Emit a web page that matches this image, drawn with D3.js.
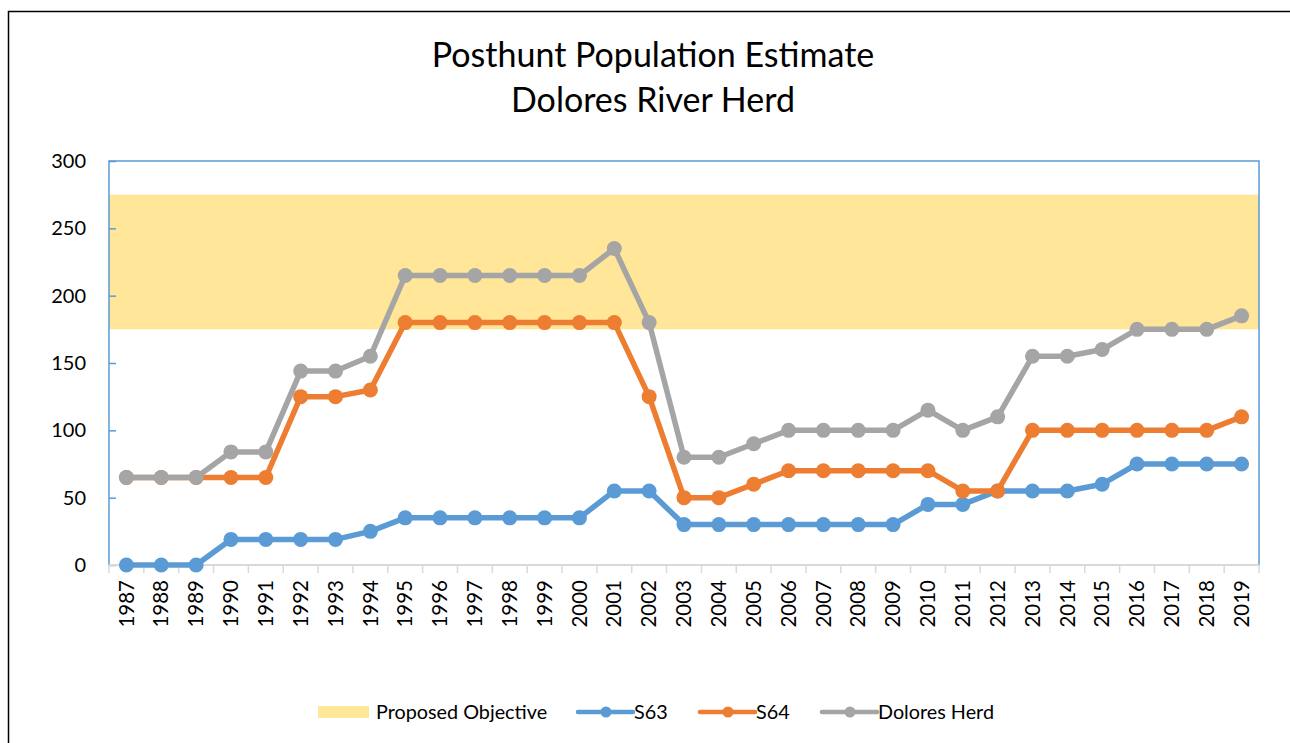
<!DOCTYPE html>
<html>
<head>
<meta charset="utf-8">
<script src="https://cdn.jsdelivr.net/npm/d3@7"></script>
<style>
  body { margin: 0; background: #fff; }
  text { font-family: Lato, "Open Sans", sans-serif; fill: #000; }
</style>
</head>
<body>
<div id="chart-area"></div>
<script>
// data
var years = d3.range(1987, 2020).map(String);
var s63 = [0, 0, 0, 19, 19, 19, 19, 25, 35, 35, 35, 35, 35, 35, 55, 55, 30, 30, 30, 30, 30, 30, 30, 45, 45, 55, 55, 55, 60, 75, 75, 75, 75];
var s64 = [65, 65, 65, 65, 65, 125, 125, 130, 180, 180, 180, 180, 180, 180, 180, 125, 50, 50, 60, 70, 70, 70, 70, 70, 55, 55, 100, 100, 100, 100, 100, 100, 110];
var dolores = [65, 65, 65, 84, 84, 144, 144, 155, 215, 215, 215, 215, 215, 215, 235, 180, 80, 80, 90, 100, 100, 100, 100, 115, 100, 110, 155, 155, 160, 175, 175, 175, 185];
var objective = [175, 275];
var yTicks = [0, 50, 100, 150, 200, 250, 300];
var titleLines = ["Posthunt Population Estimate", "Dolores River Herd"];

var series = [
    {name: "S63", values: s63, color: "#5b9bd5"},
    {name: "S64", values: s64, color: "#ed7d31"},
    {name: "Dolores Herd", values: dolores, color: "#a5a5a5"}
];

var W = 1290, H = 743;
var plotL = 109, plotR = 1259, plotT = 161, plotB = 565;

var svg = d3.select("#chart-area").append("svg")
    .attr("width", W)
    .attr("height", H);

// outer chart frame
svg.append("rect")
    .attr("x", 8.5).attr("y", 11.5)
    .attr("width", 1400).attr("height", 900)
    .attr("fill", "none")
    .attr("stroke", "#000")
    .attr("stroke-width", 1.5);

var x = d3.scaleBand().domain(years).range([plotL, plotR]);
var y = d3.scaleLinear().domain([0, 300]).range([plotB, plotT]);

// objective band
svg.append("rect")
    .attr("x", plotL)
    .attr("y", y(objective[1]))
    .attr("width", plotR - plotL)
    .attr("height", y(objective[0]) - y(objective[1]))
    .attr("fill", "#ffe699");

// plot border (blue) left/top/right
svg.append("path")
    .attr("d", "M" + plotL + "," + plotB + "V" + plotT + "H" + plotR + "V" + plotB)
    .attr("fill", "none")
    .attr("stroke", "#5b9bd5")
    .attr("stroke-width", 1.5);

// y axis
var yAxis = svg.append("g")
    .attr("transform", "translate(" + plotL + ",0)")
    .call(d3.axisRight(y).tickValues(yTicks).tickSize(7).tickFormat(""));
yAxis.select(".domain").remove();
yAxis.selectAll("line").attr("stroke", "#5b9bd5").attr("stroke-width", 1.5);

svg.append("g").selectAll("text")
    .data(yTicks)
    .join("text")
    .attr("x", 86)
    .attr("y", d => y(d))
    .attr("dy", "0.35em")
    .attr("text-anchor", "end")
    .style("font-size", "20px")
    .text(d => d);

// x axis
svg.append("line")
    .attr("x1", plotL).attr("x2", plotR)
    .attr("y1", plotB).attr("y2", plotB)
    .attr("stroke", "#d9d9d9").attr("stroke-width", 2);

var bounds = years.map(d => x(d)).concat([plotR]);
svg.append("g").selectAll("line")
    .data(bounds)
    .join("line")
    .attr("x1", d => d).attr("x2", d => d)
    .attr("y1", plotB).attr("y2", plotB + 8)
    .attr("stroke", "#d9d9d9").attr("stroke-width", 1.5);

svg.append("g").selectAll("text")
    .data(years)
    .join("text")
    .attr("transform", d => "translate(" + (x(d) + x.bandwidth() / 2) + "," + (plotB + 15) + ") rotate(-90)")
    .attr("dy", "0.35em")
    .attr("text-anchor", "end")
    .style("font-size", "20.5px")
    .text(d => d);

// lines
var line = d3.line()
    .x((d, i) => x(years[i]) + x.bandwidth() / 2)
    .y(d => y(d));

series.forEach(s => {
    var g = svg.append("g");
    g.append("path")
        .attr("d", line(s.values))
        .attr("fill", "none")
        .attr("stroke", s.color)
        .attr("stroke-width", 5.5)
        .attr("stroke-linejoin", "round");
    g.selectAll("circle")
        .data(s.values)
        .join("circle")
        .attr("cx", (d, i) => x(years[i]) + x.bandwidth() / 2)
        .attr("cy", d => y(d))
        .attr("r", 7.5)
        .attr("fill", s.color);
});

// title
svg.append("g").selectAll("text")
    .data(titleLines)
    .join("text")
    .attr("x", 653)
    .attr("y", (d, i) => 67 + i * 45)
    .attr("text-anchor", "middle")
    .style("font-size", "34px")
    .text(d => d);

// legend
var legY = 712;
var leg = svg.append("g");
leg.append("rect")
    .attr("x", 318).attr("y", 706)
    .attr("width", 51).attr("height", 12)
    .attr("fill", "#ffe699");
leg.append("text")
    .attr("x", 376).attr("y", legY).attr("dy", "0.35em")
    .style("font-size", "19.8px")
    .text("Proposed Objective");

var legX = [578, 700, 822];
series.forEach((s, i) => {
    var lx = legX[i];
    leg.append("line")
        .attr("x1", lx).attr("x2", lx + 55)
        .attr("y1", legY).attr("y2", legY)
        .attr("stroke", s.color).attr("stroke-width", 4.5)
        .attr("stroke-linecap", "round");
    leg.append("circle")
        .attr("cx", lx + 28).attr("cy", legY)
        .attr("r", 5.5).attr("fill", s.color);
    leg.append("text")
        .attr("x", lx + 56).attr("y", legY).attr("dy", "0.35em")
        .style("font-size", "19.8px")
        .text(s.name);
});
</script>
</body>
</html>
